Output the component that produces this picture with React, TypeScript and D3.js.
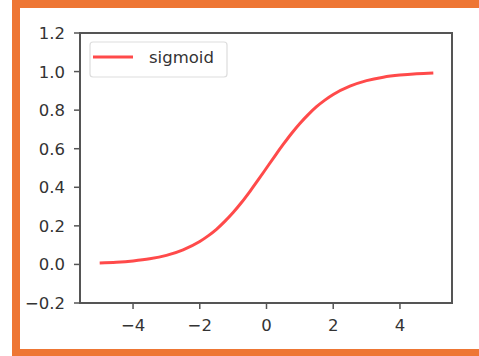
import React from "react"
import * as d3 from "d3"

// sigmoid curve, values
const xs = [-5, -4.5, -4, -3.5, -3, -2.5, -2, -1.75, -1.5, -1.25, -1, -0.75, -0.5, -0.25, 0, 0.25, 0.5, 0.75, 1, 1.25, 1.5, 1.75, 2, 2.5, 3, 3.5, 4, 4.5, 5]
const ys = [0.007, 0.011, 0.018, 0.029, 0.047, 0.076, 0.119, 0.148, 0.182, 0.223, 0.269, 0.321, 0.378, 0.438, 0.5, 0.562, 0.622, 0.679, 0.731, 0.777, 0.818, 0.852, 0.881, 0.924, 0.953, 0.971, 0.982, 0.989, 0.993]
const xTicks = [-4, -2, 0, 2, 4]
const yTicks = [-0.2, 0, 0.2, 0.4, 0.6, 0.8, 1.0, 1.2]
const seriesName = "sigmoid"

const W = 479
const H = 356
const orange = "#ee7634"
const font = "DejaVu Sans, sans-serif"

const App = () => {
    const x = d3.scaleLinear().domain([-5.5, 5.5]).range([83, 450])
    const y = d3.scaleLinear().domain([-0.2, 1.2]).range([303, 33])
    const pts = xs.map((v, i) => [v, ys[i]])
    const line = d3.line().x(d => x(d[0])).y(d => y(d[1])).curve(d3.curveMonotoneX)

    const left = 80, right = 452, top = 33, bottom = 303
    const fmt = (v) => (v < 0 ? "\u2212" : "") + Math.abs(v).toFixed(1)
    const fmtX = (v) => (v < 0 ? "\u2212" : "") + Math.abs(v)

    return (
        <div style={{ position: "absolute", left: 0, top: 0 }}>
            <svg width={W} height={H} style={{ display: "block", background: "#fff" }}>
                {/* orange frame */}
                <rect x={12} y={0} width={W - 12} height={8} fill={orange} />
                <rect x={12} y={0} width={8} height={H} fill={orange} />
                <rect x={12} y={349} width={W - 12} height={7} fill={orange} />

                <path d={line(pts)} fill="none" stroke="#ff2a2a" strokeWidth={3} strokeOpacity={0.85} />

                {/* spines */}
                <rect x={left} y={top} width={right - left} height={bottom - top} fill="none" stroke="#555" strokeWidth={2} />

                {yTicks.map(t => (
                    <g key={"y" + t}>
                        <line x1={left - 6} x2={left} y1={y(t)} y2={y(t)} stroke="#555" strokeWidth={1.5} />
                        <text x={left - 15} y={y(t)} dy="0.36em" textAnchor="end" fontFamily={font} fontSize={16.5} fill="#333">{fmt(t)}</text>
                    </g>
                ))}
                {xTicks.map(t => (
                    <g key={"x" + t}>
                        <line x1={x(t)} x2={x(t)} y1={bottom} y2={bottom + 6} stroke="#555" strokeWidth={1.5} />
                        <text x={x(t)} y={331} textAnchor="middle" fontFamily={font} fontSize={16.5} fill="#333">{fmtX(t)}</text>
                    </g>
                ))}

                {/* legend */}
                <rect x={90} y={42} width={137} height={35} rx={3} fill="#fff" stroke="#ddd" strokeWidth={1.2} />
                <line x1={93} x2={133} y1={57} y2={57} stroke="#ff2a2a" strokeWidth={3} strokeOpacity={0.85} />
                <text x={149} y={57} dy="0.36em" fontFamily={font} fontSize={16.5} fill="#333">{seriesName}</text>
            </svg>
        </div>
    )
}

export default App
